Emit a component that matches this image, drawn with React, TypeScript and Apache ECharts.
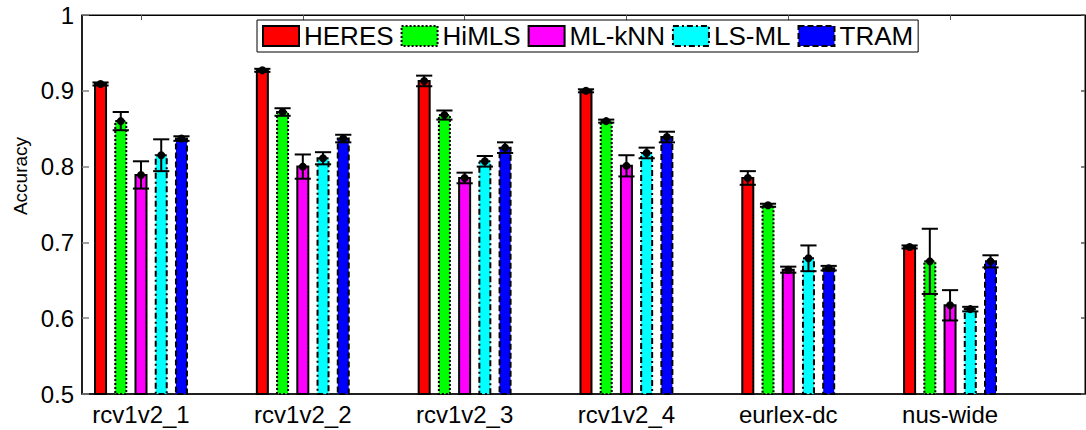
import React, { useEffect, useRef } from "react";
import * as echarts from "echarts";

const categories = ["rcv1v2_1", "rcv1v2_2", "rcv1v2_3", "rcv1v2_4", "eurlex-dc", "nus-wide"];
const methods = ["HERES", "HiMLS", "ML-kNN", "LS-ML", "TRAM"];
const colors = ["#ff0000", "#00ff00", "#ff00ff", "#00ffff", "#0000ff"];
const borderDashes: (number[] | null)[] = [null, [2, 2], null, [6, 3, 2, 3], [6, 3]];
const legendBorderTypes: any[] = ["solid", [2, 2], "solid", [6, 3, 2, 3], [6, 3]];

const heresVals = [0.909, 0.927, 0.913, 0.9, 0.785, 0.694];
const himlsVals = [0.86, 0.872, 0.868, 0.86, 0.749, 0.675];
const mlknnVals = [0.789, 0.8, 0.785, 0.801, 0.664, 0.617];
const lsmlVals = [0.815, 0.811, 0.807, 0.818, 0.679, 0.612];
const tramVals = [0.837, 0.837, 0.825, 0.839, 0.666, 0.675];

const heresErr = [0.002, 0.002, 0.007, 0.002, 0.009, 0.002];
const himlsErr = [0.012, 0.005, 0.006, 0.002, 0.002, 0.043];
const mlknnErr = [0.018, 0.016, 0.007, 0.014, 0.004, 0.02];
const lsmlErr = [0.021, 0.008, 0.007, 0.007, 0.017, 0.003];
const tramErr = [0.003, 0.005, 0.007, 0.007, 0.003, 0.008];

const allVals = [heresVals, himlsVals, mlknnVals, lsmlVals, tramVals];
const allErr = [heresErr, himlsErr, mlknnErr, lsmlErr, tramErr];

const FONT = "Liberation Sans, Arial, Helvetica, sans-serif";
const catPositions = categories.map((_, i) => i + 1);

export default function App() {
  const ref = useRef<HTMLDivElement>(null);
  useEffect(() => {
    if (!ref.current) return;
    const chart = echarts.init(ref.current, undefined, { renderer: "svg" });

    const series = methods.map((name, si) => ({
      name,
      type: "custom",
      xAxisIndex: 0,
      yAxisIndex: 0,
      itemStyle: { color: colors[si] },
      data: categories.map((_, ci) => [ci + 1, allVals[si][ci], allErr[si][ci]]),
      encode: { x: 0, y: 1 },
      renderItem: (params: any, api: any) => {
        const off = (params.seriesIndex - 2) * 0.125;
        const x = api.value(0) + off;
        const v = api.value(1);
        const e = api.value(2);
        const top = api.coord([x, v]);
        const base = api.coord([x, 0.5]);
        const w = api.size([0.068, 0])[0];
        const cap = api.size([0.1, 0])[0] / 2;
        const hi = api.coord([x, v + e])[1];
        const lo = api.coord([x, v - e])[1];
        const dash = borderDashes[params.seriesIndex];
        const black = { stroke: "#000", lineWidth: 2 };
        return {
          type: "group",
          children: [
            {
              type: "rect",
              shape: { x: top[0] - w / 2, y: top[1], width: w, height: base[1] - top[1] },
              style: { fill: colors[params.seriesIndex], stroke: "#000", lineWidth: 2, lineDash: dash || undefined },
            },
            { type: "line", shape: { x1: top[0], y1: hi, x2: top[0], y2: lo }, style: black },
            { type: "line", shape: { x1: top[0] - cap, y1: hi, x2: top[0] + cap, y2: hi }, style: black },
            { type: "line", shape: { x1: top[0] - cap, y1: lo, x2: top[0] + cap, y2: lo }, style: black },
            { type: "circle", shape: { cx: top[0], cy: top[1], r: 4 }, style: { fill: "#000" } },
          ],
        };
      },
    }));

    const xMin = 0.6354;
    const xMax = 6.834;

    chart.setOption({
      animation: false,
      backgroundColor: "#fff",
      grid: {
        left: 82,
        top: 15,
        right: 1,
        bottom: 36,
        show: true,
        borderColor: "#000",
        borderWidth: 1,
        containLabel: false,
        outerBoundsMode: "none",
      },
      legend: {
        left: 257,
        top: 20,
        orient: "horizontal",
        backgroundColor: "#fff",
        borderColor: "#000",
        borderWidth: 1,
        padding: [3, 5],
        itemGap: 7,
        itemWidth: 36,
        itemHeight: 20,
        textStyle: { fontFamily: FONT, fontSize: 26, color: "#000", lineHeight: 26 },
        data: methods.map((name, i) => ({
          name,
          icon: "rect",
          itemStyle: { color: colors[i], borderColor: "#000", borderWidth: 2, borderType: legendBorderTypes[i] },
        })),
      },
      xAxis: [
        {
          type: "value",
          min: xMin,
          max: xMax,
          position: "bottom",
          axisLine: { show: true, lineStyle: { color: "#000", width: 1.5 } },
          axisTick: { show: true, inside: true, length: 5, customValues: catPositions, lineStyle: { color: "#000" } },
          axisLabel: {
            show: true,
            customValues: catPositions,
            formatter: (v: number) => categories[Math.round(v) - 1] ?? "",
            fontFamily: FONT,
            fontSize: 24,
            color: "#000",
            margin: 8,
          },
          splitLine: { show: false },
        },
        {
          type: "value",
          min: xMin,
          max: xMax,
          position: "top",
          axisLine: { show: true, lineStyle: { color: "#000", width: 1 } },
          axisTick: { show: true, inside: true, length: 5, customValues: catPositions, lineStyle: { color: "#555" } },
          axisLabel: { show: false },
          splitLine: { show: false },
        },
      ],
      yAxis: [
        {
          type: "value",
          min: 0.5,
          max: 1,
          interval: 0.1,
          position: "left",
          axisLine: { show: true, lineStyle: { color: "#000", width: 1.5 } },
          axisTick: { show: true, inside: true, length: 7, lineStyle: { color: "#808080", width: 1.5 } },
          axisLabel: {
            formatter: (v: number) => String(+v.toFixed(1)),
            fontFamily: FONT,
            fontSize: 24,
            color: "#000",
            margin: 8,
          },
          splitLine: { show: false },
        },
        {
          type: "value",
          min: 0.5,
          max: 1,
          interval: 0.1,
          position: "right",
          axisLine: { show: true, lineStyle: { color: "#000", width: 1 } },
          axisTick: { show: true, inside: true, length: 4, lineStyle: { color: "#555", width: 1.5 } },
          axisLabel: { show: false },
          splitLine: { show: false },
        },
      ],
      graphic: [
        {
          type: "text",
          x: 20,
          y: 176,
          rotation: Math.PI / 2,
          style: {
            text: "Accuracy",
            fontFamily: FONT,
            fontSize: 19,
            fill: "#000",
            textAlign: "center",
            textVerticalAlign: "middle",
          },
        },
      ],
      series,
    });
    return () => chart.dispose();
  }, []);
  return (
    <div
      ref={ref}
      style={{ position: "fixed", left: 0, top: 0, width: 1086, height: 430, background: "#fff" }}
    />
  );
}
